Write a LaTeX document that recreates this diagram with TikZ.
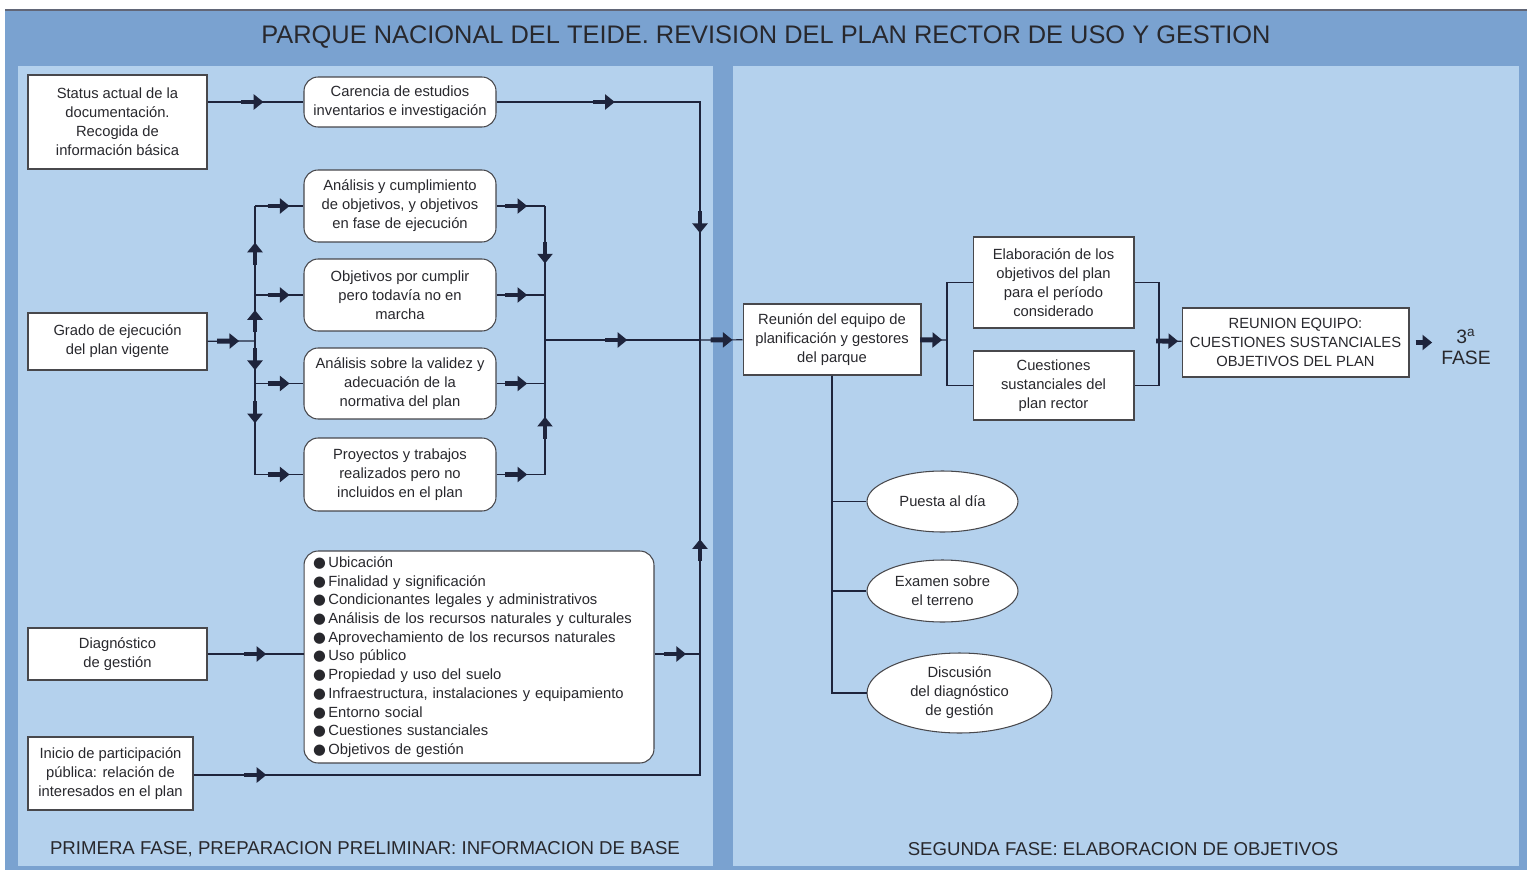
\documentclass[tikz,border=0pt]{standalone}
\usepackage{fontspec}
\setmainfont{Liberation Sans}
\newfontfamily\simbolos{DejaVu Sans}
\usetikzlibrary{shapes.geometric,arrows.meta,decorations.markings}

\definecolor{marco}{RGB}{122,162,208}
\definecolor{panel}{RGB}{180,209,237}
\definecolor{linea}{RGB}{30,36,60}
\definecolor{texto}{RGB}{40,40,45}

\newcommand{\punto}{{\simbolos ●}\,}

\tikzset{
  caja/.style={draw=texto!85, fill=white, line width=0.6pt, align=center, inner sep=0pt,
    text=texto, font=\fontsize{8.4}{10.8}\selectfont},
  redonda/.style={caja, rounded corners=8pt},
  elipse/.style={caja, ellipse},
  conector/.style={draw=linea, line width=0.7pt},
  flecha/.style={postaction={decorate,decoration={markings,
    mark=at position #1 with {\draw[linea,line width=2.8pt,-{Triangle[length=5.5pt,width=8.5pt]}] (-8pt,0) -- (4.5pt,0);}}}},
  gruesa/.style={draw=linea, line width=2.8pt, -{Triangle[length=5.5pt,width=8.5pt]}},
  rotulo/.style={text=texto, font=\fontsize{10.6}{12}\selectfont}
}

\begin{document}
\begin{tikzpicture}[x=0.02cm,y=-0.02cm]
\useasboundingbox (0,0) rectangle (1531,875);

% fondo
\fill[marco] (5,10) rectangle (1527,870);
\draw[linea!70,line width=0.6pt] (5,10) -- (1527,10);
\fill[panel] (18,66) rectangle (713,866);
\fill[panel] (733,66) rectangle (1519,866);

\node[text=texto,font=\fontsize{14.45}{16}\selectfont] (titulo) at (766,37)
  {PARQUE NACIONAL DEL TEIDE. REVISION DEL PLAN RECTOR DE USO Y GESTION};

% primera fase
\node[caja,minimum width=3.58cm,minimum height=1.88cm] (status) at (117.5,122)
  {Status actual de la\\documentación.\\Recogida de\\información básica};
\node[caja,minimum width=3.58cm,minimum height=1.14cm] (grado) at (117.5,341.5)
  {Grado de ejecución\\del plan vigente};
\node[caja,minimum width=3.58cm,minimum height=1.04cm] (diagnostico) at (117.5,654)
  {Diagnóstico\\de gestión};
\node[caja,minimum width=3.3cm,minimum height=1.46cm] (inicio) at (110.5,773.5)
  {Inicio de participación\\pública: relación de\\interesados en el plan};

\node[redonda,minimum width=3.84cm,minimum height=1.0cm] (carencia) at (400,102)
  {Carencia de estudios\\inventarios e investigación};
\node[redonda,minimum width=3.84cm,minimum height=1.44cm] (analisis) at (400,206)
  {Análisis y cumplimiento\\de objetivos, y objetivos\\en fase de ejecución};
\node[redonda,minimum width=3.84cm,minimum height=1.44cm] (objetivos) at (400,295)
  {Objetivos por cumplir\\pero todavía no en\\marcha};
\node[redonda,minimum width=3.84cm,minimum height=1.42cm] (validez) at (400,383.5)
  {Análisis sobre la validez y\\adecuación de la\\normativa del plan};
\node[redonda,minimum width=3.84cm,minimum height=1.46cm] (proyectos) at (400,474.5)
  {Proyectos y trabajos\\realizados pero no\\incluidos en el plan};

\node[redonda,align=left,text width=6.64cm,inner xsep=0.18cm,minimum height=4.24cm,
  font=\fontsize{8.4}{10.65}\selectfont] (lista) at (479,657)
  {\punto Ubicación\\
   \punto Finalidad y significación\\
   \punto Condicionantes legales y administrativos\\
   \punto Análisis de los recursos naturales y culturales\\
   \punto Aprovechamiento de los recursos naturales\\
   \punto Uso público\\
   \punto Propiedad y uso del suelo\\
   \punto Infraestructura, instalaciones y equipamiento\\
   \punto Entorno social\\
   \punto Cuestiones sustanciales\\
   \punto Objetivos de gestión};

\coordinate (busI) at (255,341);
\coordinate (busD) at (545,340);
\coordinate (colector) at (700,340);

\draw[conector,flecha=0.5] (status.east |- carencia) -- (carencia);
\draw[conector,flecha=0.25,flecha=0.74] (carencia.east) -| (colector);

\draw[conector,flecha=0.5] (grado) -- (busI);
\draw[conector,flecha=0.5] (busI) -- (busI |- objetivos);
\draw[conector,flecha=0.5] (busI |- objetivos) -- (busI |- analisis);
\draw[conector,flecha=0.5] (busI) -- (busI |- validez);
\draw[conector,flecha=0.35] (busI |- validez) -- (busI |- proyectos);
\draw[conector,flecha=0.55] (busI |- analisis) -- (analisis);
\draw[conector,flecha=0.55] (busI |- objetivos) -- (objetivos);
\draw[conector,flecha=0.55] (busI |- validez) -- (validez);
\draw[conector,flecha=0.55] (busI |- proyectos) -- (proyectos);

\draw[conector,flecha=0.47] (analisis) -- (busD |- analisis);
\draw[conector,flecha=0.47] (objetivos) -- (busD |- objetivos);
\draw[conector,flecha=0.47] (validez) -- (busD |- validez);
\draw[conector,flecha=0.47] (proyectos) -- (busD |- proyectos);
\draw[conector,flecha=0.37] (busD |- analisis) -- (busD);
\draw[conector,flecha=0.37] (busD |- proyectos) -- (busD);
\draw[conector,flecha=0.48] (busD) -- (colector);

\draw[conector,flecha=0.53] (diagnostico) -- (lista.west |- diagnostico);
\draw[conector,flecha=0.52] (lista.east |- diagnostico) -- (colector |- diagnostico);
\draw[conector,flecha=0.069,flecha=0.78] (inicio.east |- 0,775) -| (colector);

\node[rotulo] (fase1) at (365,849) {PRIMERA FASE, PREPARACION PRELIMINAR: INFORMACION DE BASE};

% segunda fase
\node[caja,minimum width=3.56cm,minimum height=1.42cm] (reunion) at (832,339.5)
  {Reunión del equipo de\\planificación y gestores\\del parque};
\node[caja,minimum width=3.22cm,minimum height=1.82cm] (elaboracion) at (1053.5,282.5)
  {Elaboración de los\\objetivos del plan\\para el período\\considerado};
\node[caja,minimum width=3.22cm,minimum height=1.38cm] (cuestiones) at (1053.5,385.5)
  {Cuestiones\\sustanciales del\\plan rector};
\node[caja,minimum width=4.54cm,minimum height=1.38cm] (equipo) at (1295.5,342.5)
  {REUNION EQUIPO:\\CUESTIONES SUSTANCIALES\\OBJETIVOS DEL PLAN};
\node[text=texto,align=center,inner sep=0pt,font=\fontsize{11}{11.5}\selectfont] (fase) at (1466,347)
  {3\textsuperscript{a}\\FASE};

\node[elipse,minimum width=3.02cm,minimum height=1.22cm] (puesta) at (942.5,501.5) {Puesta al día};
\node[elipse,minimum width=3.02cm,minimum height=1.24cm] (examen) at (942.5,591) {Examen sobre\\el terreno};
\node[elipse,minimum width=3.7cm,minimum height=1.6cm] (discusion) at (959.5,693)
  {Discusión\\del diagnóstico\\de gestión};

\coordinate (busR) at (947,340);
\coordinate (busS) at (1159,341);

\draw[conector,flecha=0.58] (colector) -- (reunion);
\draw[conector,flecha=0.5] (reunion) -- (busR);
\draw[conector] (elaboracion.west) -| (busR) |- (cuestiones.west);
\draw[conector] (elaboracion.east) -| (busS) |- (cuestiones.east);
\draw[conector,flecha=0.5] (busS) -- (equipo);
\draw[gruesa,shorten <=3.5pt,shorten >=5pt] (equipo) -- (fase.west |- equipo);

\draw[conector] (reunion) |- (puesta);
\draw[conector] (reunion) |- (examen);
\draw[conector] (reunion) |- (discusion);

\node[rotulo] (fase2) at (1123,849) {SEGUNDA FASE: ELABORACION DE OBJETIVOS};
\end{tikzpicture}
\end{document}
